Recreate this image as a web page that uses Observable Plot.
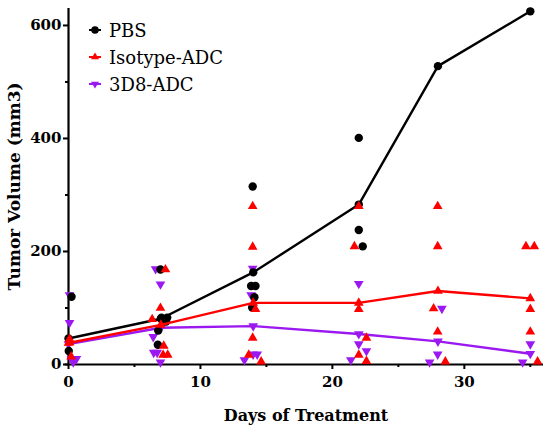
<!DOCTYPE html>
<html><head><meta charset="utf-8">
<script src="https://cdn.jsdelivr.net/npm/d3@7"></script>
<script src="https://cdn.jsdelivr.net/npm/@observablehq/plot@0.6"></script>
<style>
body{margin:0;background:#fff;}
#wrap{position:relative;width:550px;height:432px;}
#legend{position:absolute;left:0;top:0;font-family:"DejaVu Serif";font-size:18px;color:#000;}
.item{position:absolute;display:flex;align-items:center;height:26px;white-space:nowrap;}
.item svg{margin-right:7px;}
</style></head><body><div id="wrap"><div id="legend"></div></div>
<script>
// ---- data ----
const seriesNames = ["PBS", "Isotype-ADC", "3D8-ADC"];
const seriesColors = ["#000000", "#ff0000", "#9b19f0"];

const meanDays = [0, 7, 14, 22, 28, 35];
const pbsMean = [46, 81, 163, 283, 528, 625];
const isoMean = [38, 70, 109, 109, 130, 117];
const d8Mean = [36, 65, 68, 54, 41, 19];

const pbsDay = [0.23, 0.02, 6.97, 7.05, 7.48, 7.4, 6.8, 6.77, 13.96, 13.84, 14.17, 14.09, 13.92, 22.0, 22.3, 22.0];
const pbsVol = [120, 24, 168, 83, 83, 76, 60, 35, 315, 139, 139, 119, 101, 401, 209, 238];

const isoDay = [0.08, 0.08, 0.2, 7.35, 6.97, 6.34, 7.22, 7.17, 7.52, 13.96, 13.96, 14.17, 13.96, 13.66, 14.6,
  22.0, 21.67, 22.0, 22.58, 22.0, 22.58, 27.98, 27.98, 27.67, 27.98, 28.56, 34.67, 35.3, 35.0, 35.0, 35.55];
const isoVol = [45, 39, 14, 168, 100, 80, 33, 17, 17, 280, 208, 98, 47, 17, 5,
  280, 209, 98, 47, 17, 6, 280, 209, 99, 58, 5, 209, 209, 98, 58, 5];

const d8Day = [0.08, 0.08, 0.23, 0.6, 0.36, 6.6, 6.97, 6.42, 6.46, 6.72, 6.97, 13.96, 13.84, 13.99, 14.3, 13.33,
  22.0, 22.0, 22.58, 21.4, 28.3, 27.98, 27.37, 35.0, 34.42];
const d8Vol = [123, 74, 10, 10, 4, 169, 142, 49, 21, 21, 4, 170, 123, 18, 18, 8,
  143, 36, 24, 8, 99, 18, 4, 36, 4];

const xTicks = [0, 10, 20, 30];
const xMinor = [5, 15, 25, 35];
const yTicks = [0, 200, 400, 600];
const yMinor = [100, 300, 500];

// ---- build tables ----
const zip = (xs, ys) => xs.map((x, i) => ({x, y: ys[i]}));
const pbsPts = zip(pbsDay, pbsVol), isoPts = zip(isoDay, isoVol), d8Pts = zip(d8Day, d8Vol);
const pbsLine = zip(meanDays, pbsMean), isoLine = zip(meanDays, isoMean), d8Line = zip(meanDays, d8Mean);

const downTri = {
  draw(ctx, size) {
    const s3 = Math.sqrt(3);
    const y = Math.sqrt(size / (s3 * 3));
    ctx.moveTo(0, 2 * y);
    ctx.lineTo(-s3 * y, -y);
    ctx.lineTo(s3 * y, -y);
    ctx.closePath();
  }
};
const [cB, cR, cP] = seriesColors;
const rTri = 3.6, rCirc = 4.2, lw = 2.4;

const chart = Plot.plot({
  width: 550, height: 432,
  marginLeft: 68, marginRight: 7, marginTop: 8, marginBottom: 68,
  x: {domain: [0, 36]},
  y: {domain: [0, 630]},
  style: {fontFamily: "DejaVu Serif", fontSize: "15px", fontWeight: "bold", color: "black", background: "white", overflow: "visible"},
  marks: [
    Plot.axisY({ticks: yTicks, tickSize: 5, tickPadding: 2, strokeWidth: 2, label: null, tickFormat: d => String(d)}),
    Plot.axisY({ticks: yMinor, tickSize: 3, strokeWidth: 2, label: null, tickFormat: () => ""}),
    Plot.axisX({ticks: xTicks, tickSize: 5, tickPadding: 7, strokeWidth: 2, label: null, tickFormat: d => String(d)}),
    Plot.axisX({ticks: xMinor, tickSize: 3, strokeWidth: 2, label: null, tickFormat: () => ""}),
    Plot.ruleX([0], {y1: 0, y2: 630, strokeWidth: 2.2}),
    Plot.ruleY([0], {x1: -0.25, x2: 36, strokeWidth: 2.2}),

    Plot.line(d8Line, {x: "x", y: "y", stroke: cP, strokeWidth: lw}),
    Plot.dot(d8Pts, {x: "x", y: "y", symbol: downTri, r: rTri, fill: cP, stroke: null}),
    Plot.dot(d8Line, {x: "x", y: "y", symbol: downTri, r: rTri, fill: cP, stroke: null}),

    Plot.line(pbsLine, {x: "x", y: "y", stroke: cB, strokeWidth: lw}),
    Plot.dot(pbsPts, {x: "x", y: "y", r: rCirc, fill: cB, stroke: null}),
    Plot.dot(pbsLine, {x: "x", y: "y", r: rCirc, fill: cB, stroke: null}),

    Plot.line(isoLine, {x: "x", y: "y", stroke: cR, strokeWidth: lw}),
    Plot.dot(isoPts, {x: "x", y: "y", symbol: "triangle", r: rTri, fill: cR, stroke: null}),
    Plot.dot(isoLine, {x: "x", y: "y", symbol: "triangle", r: rTri, fill: cR, stroke: null}),

    Plot.text(["Tumor Volume (mm3)"], {frameAnchor: "left", dx: -54, rotate: -90, textAnchor: "middle", fontSize: 17, fontWeight: "bold", lineAnchor: "middle"}),
    Plot.text(["Days of Treatment"], {frameAnchor: "bottom", dy: 51, textAnchor: "middle", fontSize: 16, fontWeight: "bold", lineAnchor: "middle"})
  ]
});
const wrap = document.getElementById("wrap");
wrap.insertBefore(chart, wrap.firstChild);

// ---- legend ----
const legend = document.getElementById("legend");
const rowsY = [30, 57, 84];
seriesNames.forEach((name, i) => {
  const item = document.createElement("div");
  item.className = "item";
  item.style.left = "88px";
  item.style.top = (rowsY[i] - 13) + "px";
  const c = seriesColors[i];
  let marker;
  if (i === 0) marker = `<circle cx="7" cy="7" r="3.8" fill="${c}"/>`;
  else if (i === 1) marker = `<path d="M7,2.4 L11,9.3 L3,9.3 Z" fill="${c}"/>`;
  else marker = `<path d="M7,11.6 L11,4.7 L3,4.7 Z" fill="${c}"/>`;
  item.innerHTML = `<svg width="14" height="14" viewBox="0 0 14 14"><line x1="1" x2="13" y1="7" y2="7" stroke="${c}" stroke-width="2"/>${marker}</svg><span>${name}</span>`;
  legend.appendChild(item);
});
</script>
</body></html>
